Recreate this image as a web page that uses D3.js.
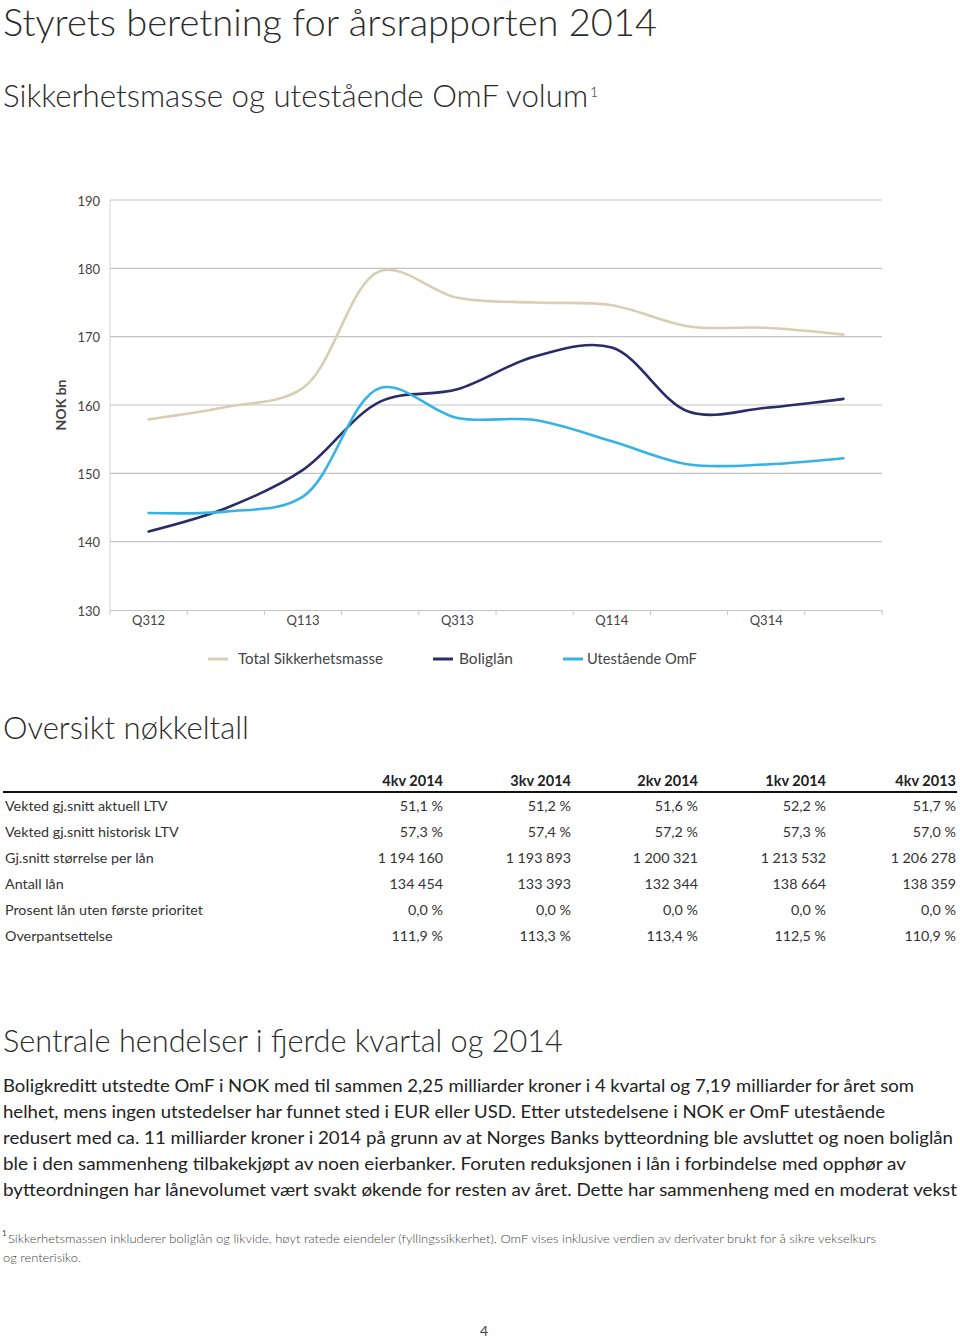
<!DOCTYPE html>
<html><head><meta charset="utf-8">
<script src="https://cdn.jsdelivr.net/npm/d3@7"></script>
<style>
body{margin:0;background:#fff;}
svg{display:block;font-family:Lato,"Open Sans",sans-serif;}
</style></head>
<body><svg id="c" width="960" height="1340"></svg>
<script>
const quarters = ["Q312","Q412","Q113","Q213","Q313","Q413","Q114","Q214","Q314","Q414"];
const shownQuarterLabels = ["Q312","Q113","Q313","Q114","Q314"];
const totalSikkerhetsmasse = [157.9,159.7,162.5,179.6,175.7,175.0,174.6,171.5,171.3,170.3];
const boliglan = [141.5,144.9,150.5,160.5,162.3,167.1,168.4,159.0,159.6,160.9];
const utestaendeOmF = [144.2,144.4,146.6,162.5,158.1,157.8,154.7,151.3,151.3,152.2];
const yTicks = [130,140,150,160,170,180,190];
const seriesNames = ["Total Sikkerhetsmasse","Boliglån","Utestående OmF"];
const seriesColors = ["#d8cfb2","#2a2c68","#34b3e4"];

const tableColumns = ["4kv 2014","3kv 2014","2kv 2014","1kv 2014","4kv 2013"];
const tableRowLabels = ["Vekted gj.snitt aktuell LTV","Vekted gj.snitt historisk LTV","Gj.snitt størrelse per lån","Antall lån","Prosent lån uten første prioritet","Overpantsettelse"];
const rowAktuellLTV = ["51,1 %","51,2 %","51,6 %","52,2 %","51,7 %"];
const rowHistoriskLTV = ["57,3 %","57,4 %","57,2 %","57,3 %","57,0 %"];
const rowSnittStorrelse = ["1 194 160","1 193 893","1 200 321","1 213 532","1 206 278"];
const rowAntallLan = ["134 454","133 393","132 344","138 664","138 359"];
const rowUtenPrioritet = ["0,0 %","0,0 %","0,0 %","0,0 %","0,0 %"];
const rowOverpant = ["111,9 %","113,3 %","113,4 %","112,5 %","110,9 %"];

const paragraphLines = [
"Boligkreditt utstedte OmF i NOK med til sammen 2,25 milliarder kroner i 4 kvartal og 7,19 milliarder for året som",
"helhet, mens ingen utstedelser har funnet sted i EUR eller USD. Etter utstedelsene i NOK er OmF utestående",
"redusert med ca. 11 milliarder kroner i 2014 på grunn av at Norges Banks bytteordning ble avsluttet og noen boliglån",
"ble i den sammenheng tilbakekjøpt av noen eierbanker. Foruten reduksjonen i lån i forbindelse med opphør av",
"bytteordningen har lånevolumet vært svakt økende for resten av året. Dette har sammenheng med en moderat vekst"];
const footnoteLines = [
"Sikkerhetsmassen inkluderer boliglån og likvide, høyt ratede eiendeler (fyllingssikkerhet). OmF vises inklusive verdien av derivater brukt for å sikre vekselkurs",
"og renterisiko."];

const svg = d3.select("#c");

function fitText(sel, targetW){
  const w = sel.node().getComputedTextLength();
  const fs = parseFloat(sel.attr("font-size"));
  if (w>0) sel.attr("font-size", (fs*targetW/w).toFixed(2));
  return sel;
}

// Headings
fitText(svg.append("text").attr("x",3).attr("y",36).attr("font-size",36).attr("font-weight",300).attr("fill","#2b2b2b").text("Styrets beretning for årsrapporten 2014"),654);
const sub = svg.append("text").attr("x",3).attr("y",107).attr("font-size",30).attr("font-weight",300).attr("fill","#2b2b2b").text("Sikkerhetsmasse og utestående OmF volum");
fitText(sub,585);
svg.append("text").attr("x",590).attr("y",97).attr("font-size",14).attr("font-weight",300).attr("fill","#2b2b2b").text("1");
fitText(svg.append("text").attr("x",3).attr("y",739).attr("font-size",30).attr("font-weight",300).attr("fill","#2b2b2b").text("Oversikt nøkkeltall"),246);
fitText(svg.append("text").attr("x",3).attr("y",1052).attr("font-size",30).attr("font-weight",300).attr("fill","#2b2b2b").text("Sentrale hendelser i fjerde kvartal og 2014"),560);

// Chart
const x = d3.scaleBand().domain(quarters).range([110,882]);
const y = d3.scaleLinear().domain([130,190]).range([610,200]);
const g = svg.append("g");

g.selectAll("line.grid").data(yTicks.slice(1)).join("line")
  .attr("x1",110).attr("x2",882).attr("y1",d=>y(d)).attr("y2",d=>y(d))
  .attr("stroke","#c4c4c4").attr("stroke-width",1.2);
g.append("line").attr("x1",110).attr("x2",110).attr("y1",y(190)).attr("y2",y(130)).attr("stroke","#d4d4d4");

const yAxis = g.append("g").attr("transform","translate(110,0)")
  .call(d3.axisLeft(y).tickValues(yTicks).tickSize(0).tickPadding(10));
yAxis.select(".domain").remove();
yAxis.selectAll("text").attr("font-size",13).attr("fill","#444").attr("font-family","Lato,sans-serif").attr("dy","0.4em");

const xAxis = g.append("g").attr("transform","translate(0,610)")
  .call(d3.axisBottom(x).tickSize(0).tickPadding(6).tickFormat(d=>shownQuarterLabels.includes(d)?d:""));
xAxis.select(".domain").attr("stroke","#c4c4c4").attr("stroke-width",1.2);
xAxis.selectAll("text").attr("font-size",13).attr("fill","#444").attr("font-family","Lato,sans-serif");
const bounds = quarters.map(q=>x(q)).concat([x.range()[1]]);
g.selectAll("line.xt").data(bounds).join("line")
  .attr("x1",d=>d).attr("x2",d=>d).attr("y1",610).attr("y2",615).attr("stroke","#c4c4c4");

g.append("text").attr("transform","translate(66,405) rotate(-90)").attr("text-anchor","middle")
  .attr("font-size",14).attr("font-weight",700).attr("fill","#444").text("NOK bn");

const line = d3.line().x((d,i)=>x(quarters[i])+x.bandwidth()/2).y(d=>y(d)).curve(d3.curveCatmullRom.alpha(0.5));
[totalSikkerhetsmasse,boliglan,utestaendeOmF].forEach((s,i)=>{
  g.append("path").attr("d",line(s)).attr("fill","none").attr("stroke",seriesColors[i]).attr("stroke-width",2.6).attr("stroke-linecap","round");
});

// Legend
const legendX = [208,433,563];
const legendTextX = [238,459,587];
const legendTextW = [145,54,110];
seriesNames.forEach((n,i)=>{
  g.append("line").attr("x1",legendX[i]).attr("x2",legendX[i]+20).attr("y1",659).attr("y2",659).attr("stroke",seriesColors[i]).attr("stroke-width",3);
  fitText(g.append("text").attr("x",legendTextX[i]).attr("y",664).attr("font-size",14).attr("fill","#444").text(n), legendTextW[i]);
});

// Table
const colRight = [443,571,698,826,956];
const tbl = svg.append("g").attr("font-size",14.5).attr("fill","#333");
tableColumns.forEach((c,i)=>{
  tbl.append("text").attr("x",colRight[i]).attr("y",786).attr("text-anchor","end").attr("font-weight",700).attr("fill","#222").text(c);
});
tbl.append("line").attr("x1",3).attr("x2",957).attr("y1",792).attr("y2",792).attr("stroke","#111").attr("stroke-width",2.2);
const rows = [rowAktuellLTV,rowHistoriskLTV,rowSnittStorrelse,rowAntallLan,rowUtenPrioritet,rowOverpant];
rows.forEach((r,ri)=>{
  const yy = 811 + ri*26;
  tbl.append("text").attr("x",5).attr("y",yy).attr("font-weight",400).attr("font-size",14.3).text(tableRowLabels[ri]);
  r.forEach((v,ci)=>{
    tbl.append("text").attr("x",colRight[ci]).attr("y",yy).attr("text-anchor","end").attr("font-weight",400).attr("font-size",14.3).text(v);
  });
});

// Paragraph
const paraEnds = [914,885,953,906,957];
paragraphLines.forEach((t,i)=>{
  svg.append("text").attr("x",3).attr("y",1092+i*26).attr("font-size",18).attr("fill","#222")
    .attr("textLength",paraEnds[i]-3).attr("lengthAdjust","spacingAndGlyphs").text(t);
});

// Footnote
svg.append("text").attr("x",2).attr("y",1236).attr("font-size",8).attr("fill","#444").text("1");
const fnEnds = [876,81];
footnoteLines.forEach((t,i)=>{
  svg.append("text").attr("x",i===0?8:3).attr("y",1243+i*19).attr("font-size",12).attr("font-weight",300).attr("fill","#444")
    .attr("textLength",fnEnds[i]-(i===0?8:3)).attr("lengthAdjust","spacingAndGlyphs").text(t);
});

svg.append("text").attr("x",484).attr("y",1336).attr("text-anchor","middle").attr("font-size",14).attr("fill","#444").text("4");
</script></body></html>
